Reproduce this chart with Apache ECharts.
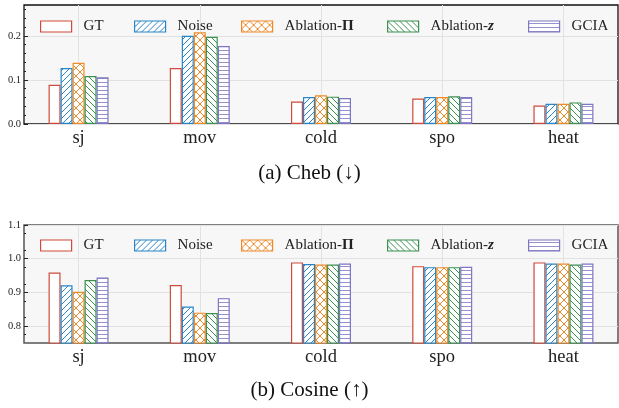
<!DOCTYPE html>
<html>
<head>
<meta charset="utf-8">
<script src="https://cdn.jsdelivr.net/npm/echarts@6/dist/echarts.min.js"></script>
<style>
html, body { margin: 0; padding: 0; background: #fff; }
#main { width: 619px; height: 408px; }
</style>
</head>
<body>
<div id="main"></div>
<script>
// data
const categories = ['sj', 'mov', 'cold', 'spo', 'heat'];
const methods = ['GT', 'Noise', 'Ablation-Π', 'Ablation-z', 'GCIA'];

const chebGT     = [0.089, 0.127, 0.051, 0.058, 0.042];
const chebNoise  = [0.127, 0.200, 0.061, 0.061, 0.046];
const chebAblPi  = [0.139, 0.208, 0.065, 0.061, 0.046];
const chebAblZ   = [0.109, 0.198, 0.062, 0.063, 0.049];
const chebGCIA   = [0.106, 0.177, 0.059, 0.061, 0.046];

const cosGT     = [0.959, 0.922, 0.989, 0.978, 0.989];
const cosNoise  = [0.921, 0.858, 0.984, 0.975, 0.986];
const cosAblPi  = [0.902, 0.840, 0.983, 0.975, 0.986];
const cosAblZ   = [0.937, 0.839, 0.983, 0.975, 0.983];
const cosGCIA   = [0.944, 0.883, 0.986, 0.976, 0.986];

const chebTicks = [0.0, 0.1, 0.2];
const cosTicks = [0.8, 0.9, 1.0, 1.1];

const colors = ['#cf4a3c', '#2a85c8', '#ee8a2a', '#3c9152', '#7d76c2'];
const hatches = ['', '/', 'x', '\\', '-'];
const serif = 'Liberation Serif';

// small canvas tiles for the hatching
function hatch(kind, color) {
    if (!kind) return '#ffffff';
    let s = kind === '-' ? 4 : (kind === 'x' ? 8 : 6);
    let c = document.createElement('canvas');
    c.width = s; c.height = s;
    let g = c.getContext('2d');
    g.fillStyle = '#fff';
    g.fillRect(0, 0, s, s);
    g.strokeStyle = color;
    g.lineWidth = 1;
    g.beginPath();
    if (kind === '/' || kind === 'x') {
        g.moveTo(-1, s + 1); g.lineTo(s + 1, -1);
        g.moveTo(-1, 1); g.lineTo(1, -1);
        g.moveTo(s - 1, s + 1); g.lineTo(s + 1, s - 1);
    }
    if (kind === '\\' || kind === 'x') {
        g.moveTo(-1, -1); g.lineTo(s + 1, s + 1);
        g.moveTo(s - 1, -1); g.lineTo(s + 1, 1);
        g.moveTo(-1, s - 1); g.lineTo(1, s + 1);
    }
    if (kind === '-') {
        g.globalAlpha = 0.8;
        g.moveTo(0, 2.5); g.lineTo(s, 2.5);
    }
    g.stroke();
    return { image: c, repeat: 'repeat' };
}

const fills = methods.map((m, i) => hatch(hatches[i], colors[i]));
const panels = [
    [chebGT, chebNoise, chebAblPi, chebAblZ, chebGCIA],
    [cosGT, cosNoise, cosAblPi, cosAblZ, cosGCIA]
];
const legendLeft = [40, 134, 241, 387, 528];
const legendTop = [19, 238];
const catIdx = categories.map((c, j) => j);

let series = [];
panels.forEach((vals, p) => {
    vals.forEach((arr, i) => {
        series.push({
            type: 'bar',
            name: methods[i],
            xAxisIndex: p,
            yAxisIndex: p,
            barWidth: 12,
            barGap: '0%',
            data: arr.map((v, j) => [j, v]),
            itemStyle: { color: fills[i], borderColor: colors[i], borderWidth: 1.2 }
        });
    });
});

let legends = [];
legendTop.forEach(t => {
    methods.forEach((m, i) => {
        legends.push({
            top: t,
            left: legendLeft[i],
            data: [m],
            icon: 'rect',
            itemWidth: 31,
            itemHeight: 11,
            padding: 0,
            selectedMode: false,
            itemStyle: { borderWidth: 1.2 },
            formatter: function (name) {
                if (name === 'Ablation-Π') return '{n|Ablation-}{b|Π}';
                if (name === 'Ablation-z') return '{n|Ablation-}{z|z}';
                return name;
            },
            textStyle: {
                fontFamily: serif, fontSize: 15, color: '#222',
                padding: [0, 0, 0, 7],
                rich: {
                    n: { fontFamily: serif, fontSize: 15, color: '#222' },
                    b: { fontFamily: serif, fontSize: 15, color: '#222', fontWeight: 'bold' },
                    z: { fontFamily: serif, fontSize: 15, color: '#222', fontWeight: 'bold', fontStyle: 'italic' }
                }
            }
        });
    });
});

function xAxisOf(p) {
    return {
        type: 'value', gridIndex: p, min: -0.45, max: 4.45,
        axisLine: { show: false, onZero: false },
        axisTick: { show: false, customValues: catIdx },
        axisLabel: {
            customValues: catIdx,
            formatter: v => categories[Math.round(v)],
            fontFamily: serif, fontSize: 18.5, color: '#222', margin: 5
        },
        splitLine: { show: true, lineStyle: { color: '#e2e2e2', width: 1 } }
    };
}

function yAxisOf(p, lo, hi, step, ticks, minorSplit) {
    return {
        type: 'value', gridIndex: p, min: lo, max: hi, interval: step,
        axisLine: { show: false, onZero: false },
        axisTick: { show: true, inside: true, length: 4, customValues: ticks, lineStyle: { color: '#222' } },
        minorTick: { show: true, splitNumber: minorSplit, length: 2, lineStyle: { color: '#222' } },
        axisLabel: { customValues: ticks, formatter: v => v.toFixed(1), fontFamily: serif, fontSize: 10.5, color: '#222', margin: 3 },
        splitLine: { lineStyle: { color: '#e2e2e2', width: 1 } }
    };
}

let option = {
    animation: false,
    backgroundColor: '#fff',
    title: [
        { text: '(a) Cheb (↓)', left: 'center', top: 163, padding: 0,
          textStyle: { fontFamily: serif, fontSize: 21, fontWeight: 'normal', color: '#111' } },
        { text: '(b) Cosine (↑)', left: 'center', top: 380, padding: 0,
          textStyle: { fontFamily: serif, fontSize: 21, fontWeight: 'normal', color: '#111' } }
    ],
    legend: legends,
    grid: [
        { left: 24, right: 1, top: 5, bottom: 284, show: true, backgroundColor: '#f7f7f7',
          borderColor: '#111', borderWidth: 1.3 },
        { left: 24, right: 1, top: 225, bottom: 65, show: true, backgroundColor: '#f7f7f7',
          borderColor: '#555', borderWidth: 1.5 }
    ],
    xAxis: [xAxisOf(0), xAxisOf(1)],
    yAxis: [
        yAxisOf(0, 0, 0.27, 0.1, chebTicks, 5),
        yAxisOf(1, 0.75, 1.1, 0.05, cosTicks, 2)
    ],
    series: series
};

let myChart = echarts.init(document.getElementById('main'));
myChart.setOption(option);

window.addEventListener('resize', function () {
    myChart.resize();
}, false);
</script>
</body>
</html>
